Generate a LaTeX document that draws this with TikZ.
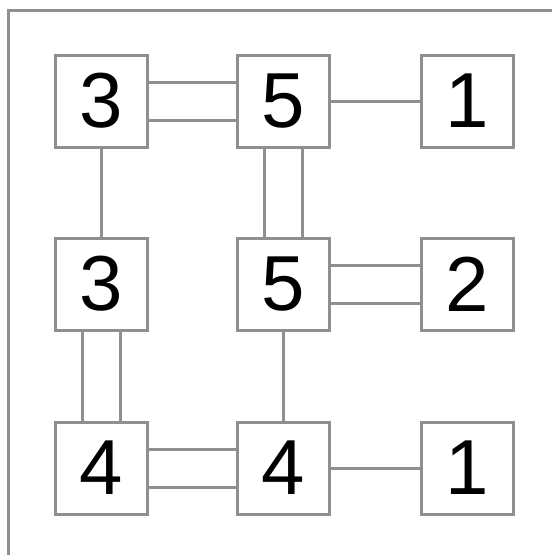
\documentclass[tikz,border=0pt]{standalone}
\usepackage{fontspec}
\setmainfont{Liberation Sans}
\definecolor{lg}{HTML}{8F8F8F}
\tikzset{
  numbox/.style={draw=lg, line width=3pt, minimum size=92pt, inner sep=0pt, font=\fontsize{78}{80}\selectfont, text=black, fill=white},
  link/.style={draw=lg, line width=3pt},
}
\begin{document}
\begin{tikzpicture}[x=1pt,y=-1pt]
\useasboundingbox (0,0) rectangle (552,555);
\fill[white] (0,0) rectangle (552,555);
% frame
\draw[lg, line width=3pt] (8,555) -- (8,10) -- (552,10);
% nodes
\node[numbox] (a1) at (101,101) {3};
\node[numbox] (a2) at (283,101) {5};
\node[numbox] (a3) at (467,101) {1};
\node[numbox] (b1) at (101,284) {3};
\node[numbox] (b2) at (283,284) {5};
\node[numbox] (b3) at (467,284) {2};
\node[numbox] (c1) at (101,468) {4};
\node[numbox] (c2) at (283,468) {4};
\node[numbox] (c3) at (467,468) {1};
% single links
\draw[link] (a2.east) -- (a3.west);
\draw[link] (a1.south) -- (b1.north);
\draw[link] (b2.south) -- (c2.north);
\draw[link] (c2.east) -- (c3.west);
% double links
\draw[link] ([yshift=19pt]a1.east) -- ([yshift=19pt]a2.west);
\draw[link] ([yshift=-19pt]a1.east) -- ([yshift=-19pt]a2.west);
\draw[link] ([yshift=19pt]b2.east) -- ([yshift=19pt]b3.west);
\draw[link] ([yshift=-19pt]b2.east) -- ([yshift=-19pt]b3.west);
\draw[link] ([yshift=19pt]c1.east) -- ([yshift=19pt]c2.west);
\draw[link] ([yshift=-19pt]c1.east) -- ([yshift=-19pt]c2.west);
\draw[link] ([xshift=-19pt]a2.south) -- ([xshift=-19pt]b2.north);
\draw[link] ([xshift=19pt]a2.south) -- ([xshift=19pt]b2.north);
\draw[link] ([xshift=-19pt]b1.south) -- ([xshift=-19pt]c1.north);
\draw[link] ([xshift=19pt]b1.south) -- ([xshift=19pt]c1.north);
\end{tikzpicture}
\end{document}
